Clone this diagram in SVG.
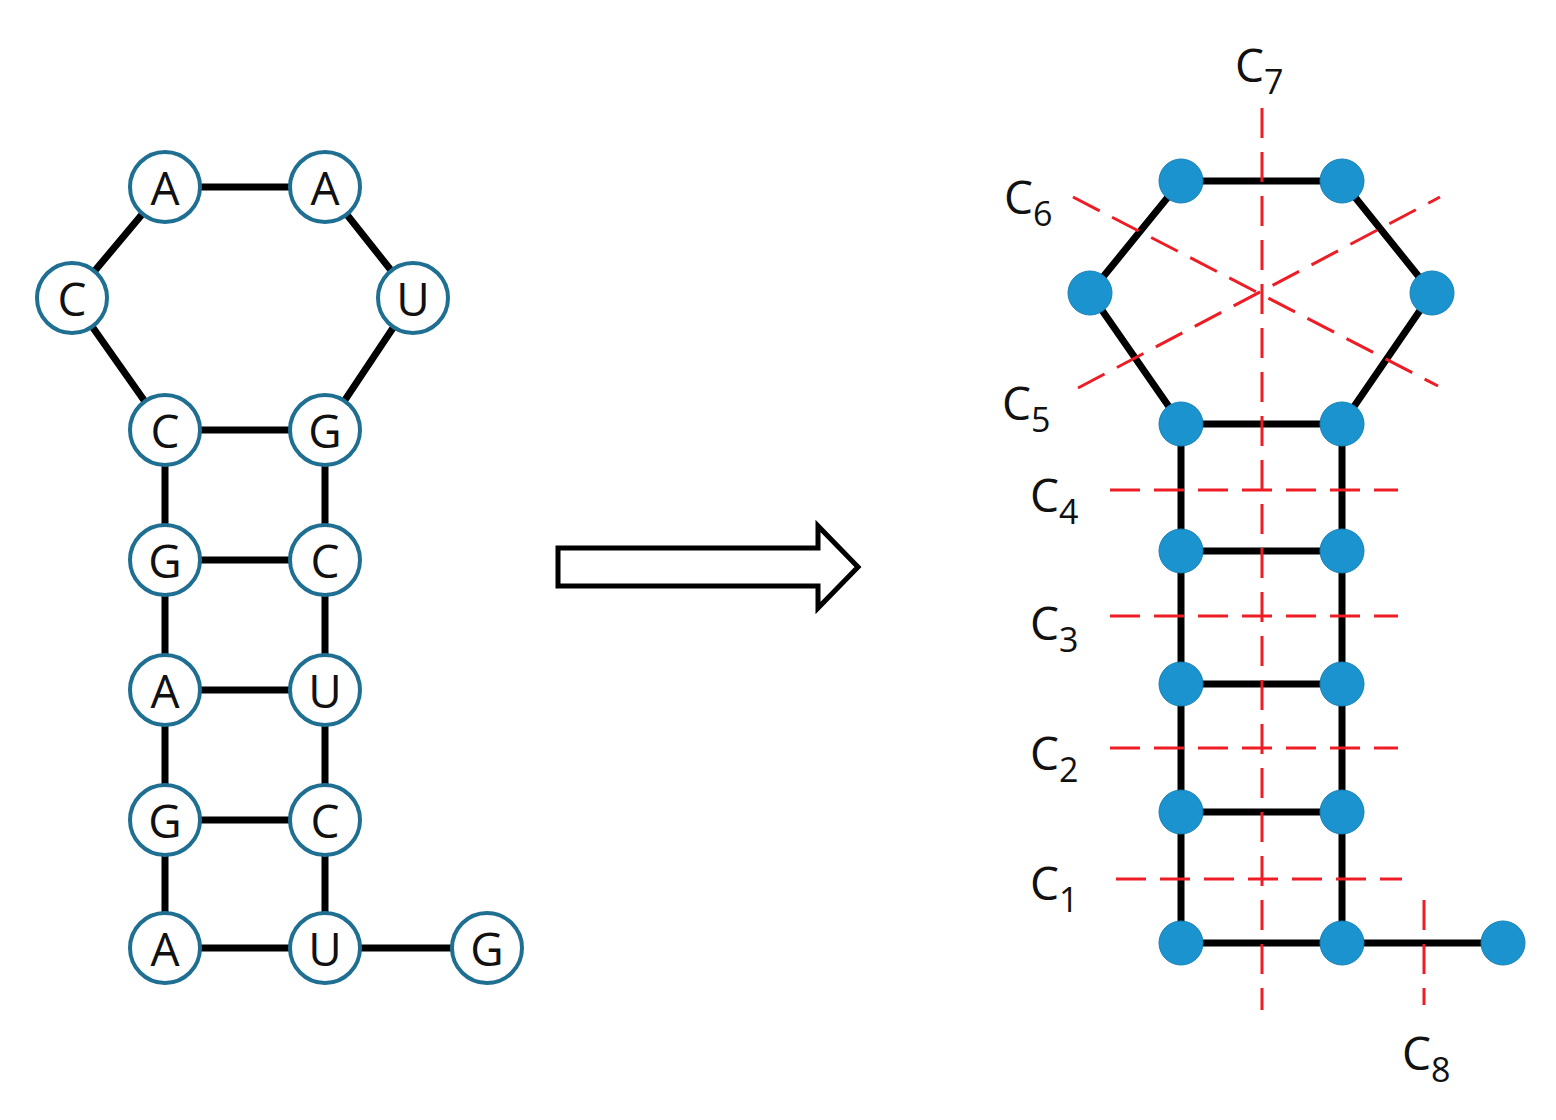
<svg xmlns="http://www.w3.org/2000/svg" width="1556" height="1120" viewBox="0 0 1556 1120">
<style>
.e{stroke:#000;stroke-width:7;fill:none}
.n circle{fill:#fff;stroke:#1f6f93;stroke-width:4}
.n text{font-family:"Open Sans","DejaVu Sans",sans-serif;font-size:46px;text-anchor:middle;dominant-baseline:central;fill:#111}
.d{fill:#1a93cf;stroke:#1780b5;stroke-width:1}
.r{stroke:#ee1c24;stroke-width:3;stroke-dasharray:30 14;fill:none}
.l{font-family:"Open Sans","DejaVu Sans",sans-serif;font-size:46px;fill:#111}
.l tspan{font-size:34px}
</style>
<g id="connectors">
<path class="e" d="M165,187H325L413,298L325,430H165L72,298Z M165,430V948 M325,430V948 M165,560H325 M165,690H325 M165,820H325 M165,948H487"/>
<path class="e" d="M1181,181H1342L1432,293L1342,424H1181L1090,293Z M1181,424V943 M1342,424V943 M1181,551H1342 M1181,684H1342 M1181,812H1342 M1181,943H1503"/>
</g>
<g id="left-nodes" class="n">
<g id="n1"><circle cx="165" cy="187" r="35"/><text x="165" y="187">A</text></g>
<g id="n2"><circle cx="325" cy="187" r="35"/><text x="325" y="187">A</text></g>
<g id="n3"><circle cx="72" cy="298" r="35"/><text x="72" y="298">C</text></g>
<g id="n4"><circle cx="413" cy="298" r="35"/><text x="413" y="298">U</text></g>
<g id="n5"><circle cx="165" cy="430" r="35"/><text x="165" y="430">C</text></g>
<g id="n6"><circle cx="325" cy="430" r="35"/><text x="325" y="430">G</text></g>
<g id="n7"><circle cx="165" cy="560" r="35"/><text x="165" y="560">G</text></g>
<g id="n8"><circle cx="325" cy="560" r="35"/><text x="325" y="560">C</text></g>
<g id="n9"><circle cx="165" cy="690" r="35"/><text x="165" y="690">A</text></g>
<g id="n10"><circle cx="325" cy="690" r="35"/><text x="325" y="690">U</text></g>
<g id="n11"><circle cx="165" cy="820" r="35"/><text x="165" y="820">G</text></g>
<g id="n12"><circle cx="325" cy="820" r="35"/><text x="325" y="820">C</text></g>
<g id="n13"><circle cx="165" cy="948" r="35"/><text x="165" y="948">A</text></g>
<g id="n14"><circle cx="325" cy="948" r="35"/><text x="325" y="948">U</text></g>
<g id="n15"><circle cx="487" cy="948" r="35"/><text x="487" y="948">G</text></g>
</g>
<g id="arrow"><path d="M558,548H818V526L858,567L818,608V586H558Z" fill="#fff" stroke="#000" stroke-width="5"/></g>
<g id="right-nodes">
<circle class="d" cx="1181" cy="181" r="22"/><circle class="d" cx="1342" cy="181" r="22"/>
<circle class="d" cx="1090" cy="293" r="22"/><circle class="d" cx="1432" cy="293" r="22"/>
<circle class="d" cx="1181" cy="424" r="22"/><circle class="d" cx="1342" cy="424" r="22"/>
<circle class="d" cx="1181" cy="551" r="22"/><circle class="d" cx="1342" cy="551" r="22"/>
<circle class="d" cx="1181" cy="684" r="22"/><circle class="d" cx="1342" cy="684" r="22"/>
<circle class="d" cx="1181" cy="812" r="22"/><circle class="d" cx="1342" cy="812" r="22"/>
<circle class="d" cx="1181" cy="943" r="22"/><circle class="d" cx="1342" cy="943" r="22"/>
<circle class="d" cx="1503" cy="943" r="22"/>
</g>
<g id="cuts">
<path class="r" d="M1262,108V1010"/>
<path class="r" d="M1073,197L1438,386"/>
<path class="r" d="M1078,388L1440,197"/>
<path class="r" d="M1110,490H1398"/>
<path class="r" d="M1110,616H1398"/>
<path class="r" d="M1110,748H1398"/>
<path class="r" d="M1116,879H1402"/>
<path class="r" d="M1424,900V1005"/>
</g>
<g id="labels">
<text class="l" x="1235" y="82">C<tspan dy="12">7</tspan></text>
<text class="l" x="1004" y="214">C<tspan dy="12">6</tspan></text>
<text class="l" x="1002" y="420">C<tspan dy="12">5</tspan></text>
<text class="l" x="1030" y="512">C<tspan dy="12">4</tspan></text>
<text class="l" x="1030" y="640">C<tspan dy="12">3</tspan></text>
<text class="l" x="1030" y="770">C<tspan dy="12">2</tspan></text>
<text class="l" x="1030" y="900">C<tspan dy="12">1</tspan></text>
<text class="l" x="1402" y="1070">C<tspan dy="12">8</tspan></text>
</g>
</svg>
